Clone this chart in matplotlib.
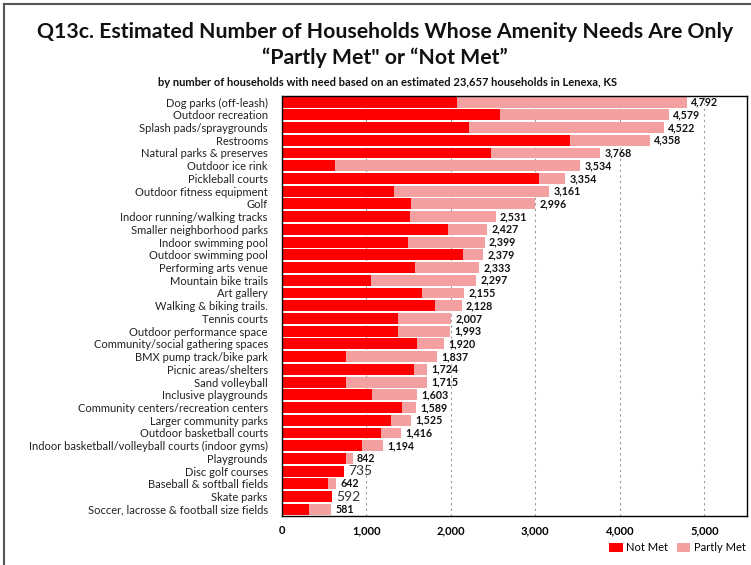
import numpy as np
import matplotlib.pyplot as plt
from matplotlib.lines import Line2D

# datos (de arriba hacia abajo)
categorias = ["Dog parks (off-leash)", "Outdoor recreation", "Splash pads/spraygrounds",
              "Restrooms", "Natural parks & preserves", "Outdoor ice rink",
              "Pickleball courts", "Outdoor fitness equipment", "Golf",
              "Indoor running/walking tracks", "Smaller neighborhood parks",
              "Indoor swimming pool", "Outdoor swimming pool", "Performing arts venue",
              "Mountain bike trails", "Art gallery", "Walking & biking trails.",
              "Tennis courts", "Outdoor performance space",
              "Community/social gathering spaces", "BMX pump track/bike park",
              "Picnic areas/shelters", "Sand volleyball", "Inclusive playgrounds",
              "Community centers/recreation centers", "Larger community parks",
              "Outdoor basketball courts", "Indoor basketball/volleyball courts (indoor gyms)",
              "Playgrounds", "Disc golf courses", "Baseball & softball fields",
              "Skate parks", "Soccer, lacrosse & football size fields"]

totales = [4792, 4579, 4522, 4358, 3768, 3534, 3354, 3161, 2996, 2531, 2427,
           2399, 2379, 2333, 2297, 2155, 2128, 2007, 1993, 1920, 1837, 1724,
           1715, 1603, 1589, 1525, 1416, 1194, 842, 735, 642, 592, 581]

not_met = [2074, 2587, 2212, 3414, 2480, 633, 3043, 1330, 1527, 1523, 1968,
           1488, 2141, 1571, 1055, 1665, 1819, 1378, 1378, 1602, 756, 1567,
           756, 1063, 1421, 1287, 1173, 945, 760, 735, 551, 592, 322]

partly_met = [t - n for t, n in zip(totales, not_met)]

# etiquetas que aparecen con otra letra en el original
etiquetas_planas = ["Disc golf courses", "Skate parks"]

rojo = "#FF0000"
rosado = "#F5A0A0"

plt.rcParams['font.family'] = ['Lato', 'DejaVu Sans']

fig = plt.figure(figsize=(7.51, 5.65), dpi=100)
ax = fig.add_axes([281.7/751, 1-515.7/565, (746.7-281.7)/751, (515.7-95.7)/565])

y = np.arange(len(categorias))
ax.barh(y, not_met, height=0.86, color=rojo, zorder=2, label="Not Met")
ax.barh(y, partly_met, left=not_met, height=0.86, color=rosado, zorder=2, label="Partly Met")

for i in range(len(categorias)):
    if categorias[i] in etiquetas_planas:
        ax.text(totales[i] + 50, y[i], f"{totales[i]:,}", va="center", ha="left",
                fontsize=10, color="#333333")
    else:
        ax.text(totales[i] + 50, y[i], f"{totales[i]:,}", va="center", ha="left",
                fontsize=7.7, fontweight="bold", color="#111111")

ax.set_xlim(0, 5500)
ax.set_ylim(len(categorias) - 0.5, -0.5)
ax.set_yticks(y)
ax.set_yticklabels(categorias, fontsize=8, color="#222222")
ax.set_xticks([0, 1000, 2000, 3000, 4000, 5000])
ax.set_xticklabels(["0", "1,000", "2,000", "3,000", "4,000", "5,000"],
                   fontsize=8, fontweight="bold")
ax.tick_params(axis="both", length=0)
ax.tick_params(axis="x", pad=7)
ax.tick_params(axis="y", pad=10)
ax.grid(axis="x", linestyle=(0, (2, 3)), color="#999999", linewidth=0.8, zorder=0)
for s in ax.spines.values():
    s.set_color("black")
    s.set_linewidth(1.0)

ax.legend(loc="upper right", bbox_to_anchor=(750/751, 1-538/565), bbox_transform=fig.transFigure,
          ncol=2, frameon=False, fontsize=8, handlelength=1.2, handleheight=0.9,
          handletextpad=0.3, columnspacing=0.8, borderaxespad=0)

# titulo y subtitulo
fig.text(385/751, 1-32/565, "Q13c. Estimated Number of Households Whose Amenity Needs Are Only",
         ha="center", va="center", fontsize=15.3, fontweight="bold", color="#111111")
fig.text(385/751, 1-58/565, '\u201cPartly Met" or \u201cNot Met\u201d',
         ha="center", va="center", fontsize=15.3, fontweight="bold", color="#111111")
fig.text(388/751, 1-82/565,
         "by number of households with need based on an estimated 23,657 households in Lenexa, KS",
         ha="center", va="center", fontsize=8, fontweight="bold", color="#111111")

# marco de la figura (solo arriba e izquierda)
fig.add_artist(Line2D([4/751, 1], [1-4/565, 1-4/565], transform=fig.transFigure,
                      color="#555555", linewidth=1.5))
fig.add_artist(Line2D([4/751, 4/751], [0, 1-4/565], transform=fig.transFigure,
                      color="#555555", linewidth=1.5))

fig.savefig("out.png", dpi=100)
